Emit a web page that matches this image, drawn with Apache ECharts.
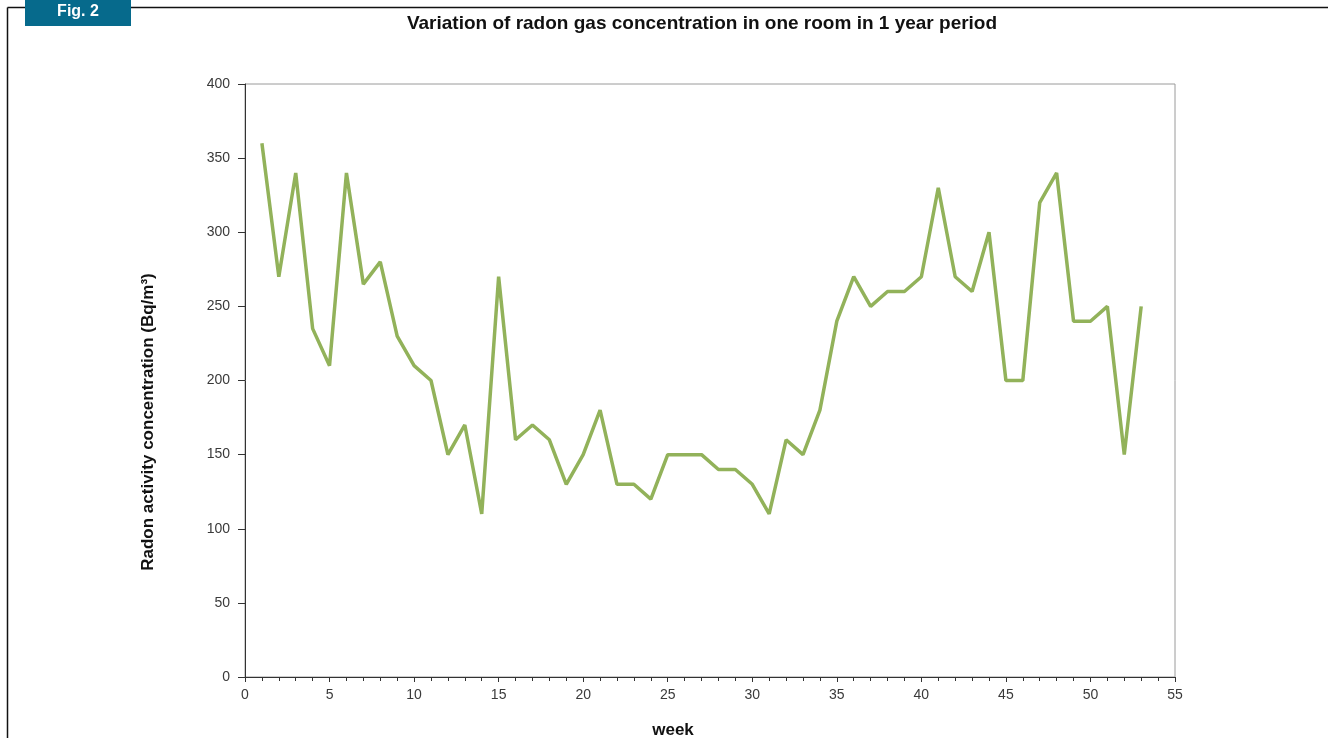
<!DOCTYPE html>
<html><head><meta charset="utf-8">
<script src="https://cdn.jsdelivr.net/npm/echarts@6/dist/echarts.min.js"></script>
<style>html,body{margin:0;padding:0;background:#fff}#c{width:1328px;height:738px}</style>
</head><body><div id="c"></div>
<script>
const weeks = [1,2,3,4,5,6,7,8,9,10,11,12,13,14,15,16,17,18,19,20,21,22,23,24,25,26,27,28,29,30,31,32,33,34,35,36,37,38,39,40,41,42,43,44,45,46,47,48,49,50,51,52,53];
const radon = [360,270,340,235,210,340,265,280,230,210,200,150,170,110,270,160,170,160,130,150,180,130,130,120,150,150,150,140,140,130,110,160,150,180,240,270,250,260,260,270,330,270,260,300,200,200,320,340,240,240,250,150,250];
const titleText = 'Variation of radon gas concentration in one room in 1 year period';
const yName = 'Radon activity concentration (Bq/m³)';
const xName = 'week';

const chart = echarts.init(document.getElementById('c'));
chart.setOption({
  animation:false,
  backgroundColor:'#fff',
  title:{text:titleText,left:697,top:9,textAlign:'center',
    textStyle:{fontFamily:'Liberation Sans, Arial',fontSize:19,fontWeight:'bold',color:'#111'}},
  grid:{left:245,right:153,top:84,bottom:61,show:true,borderColor:'#9a9a9a',borderWidth:1,outerBoundsMode:'none',containLabel:false},
  xAxis:{type:'value',min:0,max:55,interval:5,
    axisLine:{show:true,lineStyle:{color:'#333',width:1}},
    axisTick:{show:true,length:5,lineStyle:{color:'#333'}},
    minorTick:{show:true,splitNumber:5,length:4,lineStyle:{color:'#333'}},
    splitLine:{show:false},
    axisLabel:{margin:11,fontFamily:'Liberation Sans, Arial',fontSize:14,color:'#3a3a3a'}},
  yAxis:{type:'value',min:0,max:400,interval:50,
    axisLine:{show:true,lineStyle:{color:'#333',width:1}},
    axisTick:{show:true,length:7,lineStyle:{color:'#333'}},
    splitLine:{show:false},
    axisLabel:{margin:15,fontFamily:'Liberation Sans, Arial',fontSize:14,color:'#3a3a3a'}},
  series:[{type:'line',data:weeks.map((w,i)=>[w,radon[i]]),showSymbol:false,
    lineStyle:{color:'#92b25a',width:3.5},itemStyle:{color:'#92b25a'}}],
  graphic:[
    {type:'line',shape:{x1:131,y1:7.5,x2:1328,y2:7.5},style:{stroke:'#111',lineWidth:1.5}},
    {type:'line',shape:{x1:7.5,y1:7.5,x2:7.5,y2:738},style:{stroke:'#111',lineWidth:1.5}},
    {type:'line',shape:{x1:7.5,y1:7.5,x2:25,y2:7.5},style:{stroke:'#111',lineWidth:1.5}},
    {type:'rect',shape:{x:25,y:0,width:106,height:26},style:{fill:'#066a8c'}},
    {type:'text',x:78,y:12,style:{text:'Fig. 2',fill:'#fff',font:'bold 16px Liberation Sans, Arial',align:'center',verticalAlign:'middle'}},
    {type:'text',x:148,y:422,rotation:Math.PI/2,style:{text:yName,fill:'#111',font:'bold 17px Liberation Sans, Arial',align:'center',verticalAlign:'middle'}},
    {type:'text',x:673,y:730,style:{text:xName,fill:'#111',font:'bold 17px Liberation Sans, Arial',align:'center',verticalAlign:'middle'}}
  ]
});
</script></body></html>
